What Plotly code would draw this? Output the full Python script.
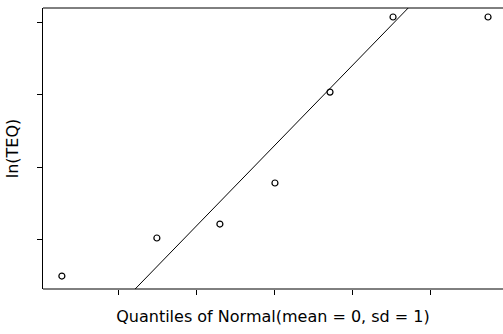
import plotly.graph_objects as go

# Normal quantiles (x) and ln(TEQ) sample values (y)
quantiles = [-1.366, -0.757, -0.353, 0.0, 0.353, 0.757, 1.366]
ln_teq = [0.486, 1.014, 1.208, 1.778, 3.04, 4.083, 4.083]

# Reference line end points
line_x = [-0.95, 0.90]
line_y = [0.186, 4.31]

x_ticks = [-1.0, -0.5, 0.0, 0.5, 1.0]
y_ticks = [1.0, 2.0, 3.0, 4.0]

fig = go.Figure()
fig.add_trace(go.Scatter(x=line_x, y=line_y, mode="lines",
                         line=dict(color="black", width=1), showlegend=False))
fig.add_trace(go.Scatter(x=quantiles, y=ln_teq, mode="markers",
                         marker=dict(symbol="circle-open", size=6, color="black",
                                     line=dict(width=1.2, color="black")),
                         showlegend=False))

# top and bottom frame lines running to the right edge
for yv in (0, 1):
    fig.add_shape(type="line", xref="paper", yref="paper", x0=0, x1=1, y0=yv, y1=yv,
                  line=dict(color="black", width=1), layer="above")

font = dict(family="DejaVu Sans", size=16, color="black")
fig.update_layout(
    width=503, height=334,
    margin=dict(l=43, r=0, t=8, b=45),
    paper_bgcolor="white", plot_bgcolor="white",
    font=font,
    xaxis=dict(range=[-1.487, 1.462], tickvals=x_ticks, showticklabels=False,
               ticks="outside", ticklen=5, tickcolor="black", tickwidth=1,
               showline=False,
               showgrid=False, zeroline=False, automargin=False,
               title=dict(text="Quantiles of Normal(mean = 0, sd = 1)", font=font, standoff=16)),
    yaxis=dict(range=[0.306, 4.208], tickvals=y_ticks, showticklabels=False,
               ticks="outside", ticklen=5, tickcolor="black", tickwidth=1,
               showline=True, linecolor="black", linewidth=1, mirror=False,
               showgrid=False, zeroline=False, automargin=False,
               title=dict(text="ln(TEQ)", font=font, standoff=14)),
)
fig.write_html("out.html", config={"displayModeBar": False})
